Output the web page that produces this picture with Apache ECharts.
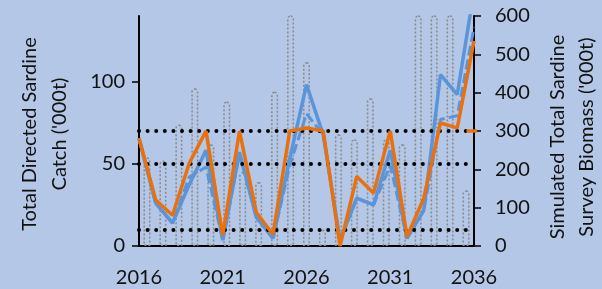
<!DOCTYPE html>
<html>
<head>
<meta charset="utf-8">
<script src="https://cdn.jsdelivr.net/npm/echarts@6/dist/echarts.min.js"></script>
<style>
  html, body { margin: 0; padding: 0; background: #b4c7e7; }
  #chart { width: 602px; height: 289px; }
</style>
</head>
<body>
<div id="chart"></div>
<script>
// years 2016..2036
const years = [];
for (let y = 2016; y <= 2036; y++) years.push(String(y));

// simulated catch, '000t (left axis) - dotted bars
const catchVals = [54, 52, 74, 96, 62, 88, 45, 39, 94, 160, 112, 10, 68, 65, 90, 65, 62, 160, 160, 160, 34];

// simulated biomass, '000t (right axis)
const biomassSolid = [281, 111, 60, 160, 250, 15, 245, 75, 20, 228, 421, 290, 15, 125, 107, 250, 20, 93, 447, 395, 665];
const biomassDashed = [281, 111, 60, 180, 206, 15, 240, 75, 20, 210, 345, 290, 15, 125, 107, 210, 20, 93, 330, 340, 570];
const biomassOrange = [281, 120, 80, 216, 300, 28, 300, 88, 30, 300, 308, 300, 0, 181, 138, 300, 24, 125, 321, 308, 535];
const orangeTail = [[2035.55, 300], [2036.2, 300]];

// catch reference levels, '000t
const refLevels = [10, 50, 70];

const leftTicks = { min: 0, max: 140, interval: 50 };
const rightTicks = { min: 0, max: 600, interval: 100 };

const font = 'Lato';
const textColor = '#111';

const chart = echarts.init(document.getElementById('chart'));

const option = {
  backgroundColor: '#b4c7e7',
  animation: false,
  grid: { left: 139, right: 128, top: 16, bottom: 43 },
  xAxis: [
    {
      type: 'category',
      data: years,
      boundaryGap: false,
      axisLine: { lineStyle: { color: '#000', width: 2 } },
      axisTick: { show: false },
      axisLabel: { interval: 4, color: textColor, fontFamily: font, fontSize: 20, margin: 22 },
      splitLine: { show: false }
    },
    {
      type: 'category',
      data: years,
      boundaryGap: true,
      position: 'top',
      axisLine: { lineStyle: { color: '#000', width: 2 } },
      axisTick: { show: false },
      axisLabel: { show: false }
    },
    {
      type: 'value',
      min: 2016,
      max: 2036,
      show: false
    }
  ],
  yAxis: [
    {
      type: 'value',
      min: leftTicks.min,
      max: leftTicks.max,
      interval: leftTicks.interval,
      axisLine: { show: true, lineStyle: { color: '#000', width: 2 } },
      axisTick: { show: true, length: 7, lineStyle: { color: '#000', width: 1.5 } },
      axisLabel: { color: textColor, fontFamily: font, fontSize: 20, margin: 14, showMaxLabel: false },
      splitLine: { show: false }
    },
    {
      type: 'value',
      position: 'right',
      min: rightTicks.min,
      max: rightTicks.max,
      interval: rightTicks.interval,
      axisLine: { show: true, lineStyle: { color: '#000', width: 2 } },
      axisTick: { show: true, length: 7, lineStyle: { color: '#000', width: 1.5 } },
      axisLabel: { color: textColor, fontFamily: font, fontSize: 20, margin: 21 },
      splitLine: { show: false }
    }
  ],
  series: [
    {
      name: 'Catch',
      type: 'bar',
      xAxisIndex: 1,
      yAxisIndex: 0,
      data: catchVals,
      barWidth: 7,
      itemStyle: {
        color: 'rgba(0,0,0,0)',
        borderColor: '#8a8a8a',
        borderWidth: 1.5,
        borderType: [2, 2],
        borderRadius: [4, 4, 0, 0]
      },
      z: 1
    },
    {
      name: 'Biomass dashed',
      type: 'line',
      xAxisIndex: 0,
      yAxisIndex: 1,
      data: biomassDashed,
      symbol: 'none',
      lineStyle: { color: '#5b95d9', width: 3, type: [10, 4] },
      z: 3
    },
    {
      name: 'Biomass',
      type: 'line',
      xAxisIndex: 0,
      yAxisIndex: 1,
      data: biomassSolid,
      symbol: 'none',
      lineStyle: { color: '#5b95d9', width: 3.5 },
      z: 4
    },
    {
      name: 'Biomass orange',
      type: 'line',
      xAxisIndex: 0,
      yAxisIndex: 1,
      data: biomassOrange,
      symbol: 'none',
      lineStyle: { color: '#e8700e', width: 3.5 },
      z: 5
    },
    {
      name: 'Tail',
      type: 'line',
      xAxisIndex: 2,
      yAxisIndex: 1,
      data: orangeTail,
      symbol: 'none',
      clip: false,
      lineStyle: { color: '#e8700e', width: 3.5 },
      z: 5
    },
    {
      name: 'Levels',
      type: 'line',
      xAxisIndex: 0,
      yAxisIndex: 0,
      data: [],
      markLine: {
        silent: true,
        symbol: 'none',
        label: { show: false },
        lineStyle: { color: '#000', width: 4, type: [0, 8.6], cap: 'round' },
        data: refLevels.map(v => ({ yAxis: v }))
      },
      z: 10
    }
  ],
  graphic: [
    {
      type: 'text',
      x: 45, y: 134,
      rotation: Math.PI / 2,
      style: {
        text: "Total Directed Sardine\nCatch ('000t)",
        fill: textColor, font: '20px Lato',
        align: 'center', verticalAlign: 'middle', lineHeight: 30
      }
    },
    {
      type: 'text',
      x: 572, y: 137,
      rotation: Math.PI / 2,
      style: {
        text: "Simulated Total Sardine\nSurvey Biomass ('000t)",
        fill: textColor, font: '20px Lato',
        align: 'center', verticalAlign: 'middle', lineHeight: 29
      }
    }
  ]
};

chart.setOption(option);
</script>
</body>
</html>
